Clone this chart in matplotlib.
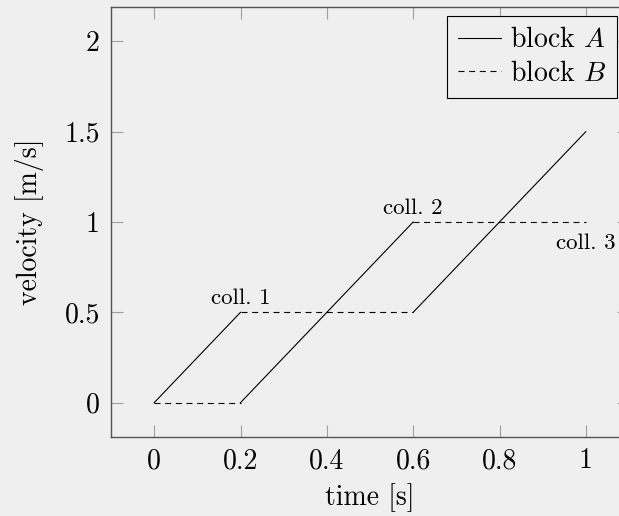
import numpy as np
import matplotlib
matplotlib.use("Agg")
import matplotlib.pyplot as plt

# data (NaN breaks the lines at the collisions)
t_a = [0.0, 0.2, np.nan, 0.2, 0.6, np.nan, 0.6, 1.0]
v_a = [0.0, 0.5, np.nan, 0.0, 1.0, np.nan, 0.5, 1.5]
t_b = [0.0, 0.2, np.nan, 0.2, 0.6, np.nan, 0.6, 1.0]
v_b = [0.0, 0.0, np.nan, 0.5, 0.5, np.nan, 1.0, 1.0]

coll_labels = ["coll. 1", "coll. 2", "coll. 3"]
coll_t = [0.2, 0.6, 1.0]
coll_v = [0.5, 1.0, 1.0]

xticks = [0, 0.2, 0.4, 0.6, 0.8, 1]
xticklabels = ["0", "0.2", "0.4", "0.6", "0.8", "1"]
yticks = [0, 0.5, 1, 1.5, 2]
yticklabels = ["0", "0.5", "1", "1.5", "2"]

plt.rcParams['font.family'] = 'cmr10'
plt.rcParams['mathtext.fontset'] = 'cm'
plt.rcParams['axes.formatter.use_mathtext'] = True

bg = '#efefef'
fig = plt.figure(figsize=(6.19, 5.16), dpi=100, facecolor=bg)
ax = fig.add_axes([111/619, 79/516, 518/619, 430/516])
ax.set_facecolor(bg)

ax.plot(t_a, v_a, color='black', lw=0.8, label='block $A$')
ax.plot(t_b, v_b, color='black', lw=0.8, linestyle=(0, (5.4, 4.2)), label='block $B$')

for lab, tt, vv in zip(coll_labels, coll_t, coll_v):
    if lab.endswith("3"):
        ax.annotate(lab, (tt, vv), xytext=(0, -8), textcoords='offset points',
                    ha='center', va='top', fontsize=16.5)
    else:
        ax.annotate(lab, (tt, vv), xytext=(0, 3), textcoords='offset points',
                    ha='center', va='bottom', fontsize=16.5)

ax.set_xlim(-0.1, 1.1)
ax.set_ylim(-0.19, 2.19)
ax.set_xticks(xticks)
ax.set_xticklabels(xticklabels)
ax.set_yticks(yticks)
ax.set_yticklabels(yticklabels)
ax.tick_params(direction='in', length=8.6, width=0.8, color='#a0a0a0',
               top=True, right=True, labelsize=20, pad=8)
for s in ax.spines.values():
    s.set_color('#555555')
    s.set_linewidth(1.0)

ax.set_xlabel('time [s]', fontsize=20)
ax.set_ylabel('velocity [m/s]', fontsize=20)
ax.xaxis.set_label_coords(0.5, -0.14)
ax.xaxis.label.set_va('center')
ax.yaxis.set_label_coords(-0.158, 0.5)
ax.yaxis.label.set_va('center')

leg = ax.legend(loc='upper right', bbox_to_anchor=(0.977, 0.979), borderaxespad=0,
                fontsize=20, handlelength=1.55, handletextpad=0.3, labelspacing=0.25,
                borderpad=0.4, fancybox=False, framealpha=1, facecolor=bg,
                edgecolor='black')
leg.get_frame().set_linewidth(0.8)

fig.savefig('out.png', dpi=100, facecolor=bg)
